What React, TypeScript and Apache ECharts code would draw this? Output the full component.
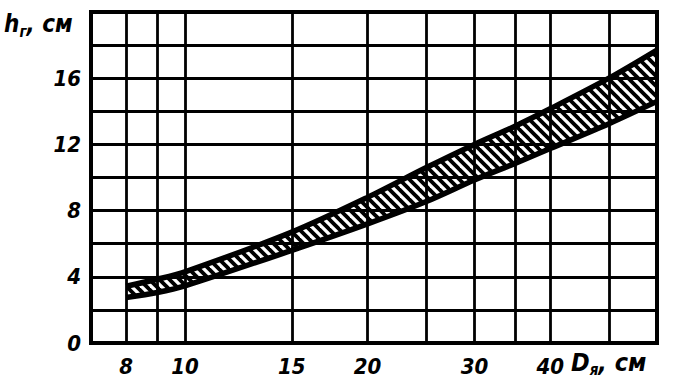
import React, { useEffect, useRef } from "react";
import * as echarts from "echarts";

// Diameter D_я (cm), logarithmic axis
const diameters = [8, 9, 10, 15, 20, 25, 30, 35, 40, 50, 60];
// Upper and lower bounds of h_г (cm)
const upperH = [3.43, 3.85, 4.3, 6.7, 8.8, 10.6, 12.0, 13.1, 14.15, 16.0, 17.7];
const lowerH = [2.75, 3.05, 3.45, 5.6, 7.2, 8.55, 9.85, 10.85, 11.75, 13.25, 14.6];
// Axis ticks / grid
const xTickLabels = [8, 10, 15, 20, 30, 40];
const xGridValues = [8, 9, 10, 15, 20, 25, 30, 35, 40, 50];
const yGridValues = [2, 4, 6, 8, 10, 12, 14, 16, 18];
const yTickLabels = [0, 4, 8, 12, 16];

const FONT = '"DejaVu Sans Condensed", "DejaVu Sans", sans-serif';

function makeHatch(): HTMLCanvasElement {
  const s = 10;
  const c = document.createElement("canvas");
  c.width = s;
  c.height = s;
  const ctx = c.getContext("2d")!;
  ctx.fillStyle = "#fff";
  ctx.fillRect(0, 0, s, s);
  ctx.strokeStyle = "#000";
  ctx.lineWidth = 3.8;
  for (const x0 of [-s, 0, s]) {
    ctx.beginPath();
    ctx.moveTo(x0 - 2, -2);
    ctx.lineTo(x0 + s + 2, s + 2);
    ctx.stroke();
  }
  return c;
}

export default function App() {
  const ref = useRef<HTMLDivElement>(null);

  useEffect(() => {
    if (!ref.current) return;
    const chart = echarts.init(ref.current, undefined, { renderer: "svg" });
    const hatch = makeHatch();
    const lowerPts = diameters.map((d, i) => [d, lowerH[i]]);
    const upperPts = diameters.map((d, i) => [d, upperH[i]]);
    const labelStyle = {
      color: "#000",
      fontFamily: FONT,
      fontWeight: "bold" as const,
      fontStyle: "italic" as const,
      fontSize: 22,
    };
    const smooth = 0.3;
    const subStyle = {
      fontSize: 15,
      fontWeight: "bold",
      fontStyle: "italic",
      fontFamily: FONT,
      verticalAlign: "bottom",
      lineHeight: 30,
      fill: "#000",
    };

    chart.setOption({
      animation: false,
      backgroundColor: "#fff",
      grid: {
        left: 91,
        right: 18,
        top: 12,
        bottom: 44,
        show: true,
        z: 8,
        backgroundColor: "transparent",
        borderColor: "#000",
        borderWidth: 4,
        outerBoundsMode: "none",
      },
      xAxis: {
        type: "log",
        logBase: 10,
        min: 7,
        max: 60,
        z: 8,
        axisLine: { show: true, lineStyle: { color: "#000", width: 4 } },
        axisTick: { show: false },
        splitLine: { show: false },
        minorSplitLine: { show: false },
        axisLabel: {
          ...labelStyle,
          margin: 12,
          customValues: xTickLabels,
          formatter: (v: number) => String(Math.round(v)),
        },
      },
      yAxis: {
        type: "value",
        min: 0,
        max: 20,
        interval: 2,
        z: 8,
        axisLine: { show: true, lineStyle: { color: "#000", width: 4 } },
        axisTick: { show: false },
        splitLine: { show: false },
        axisLabel: {
          ...labelStyle,
          margin: 10,
          formatter: (v: number) => (yTickLabels.includes(v) ? String(v) : ""),
        },
      },
      series: [
        {
          name: "upperFill",
          type: "line",
          data: upperPts,
          smooth,
          symbol: "none",
          lineStyle: { width: 0, opacity: 0 },
          areaStyle: {
            color: { image: hatch, repeat: "repeat", imageWidth: 10, imageHeight: 10 },
            opacity: 1,
          },
          silent: true,
          z: 2,
        },
        {
          name: "lowerFill",
          type: "line",
          data: lowerPts,
          smooth,
          symbol: "none",
          lineStyle: { width: 0, opacity: 0 },
          areaStyle: { color: "#fff", opacity: 1 },
          silent: true,
          z: 3,
        },
        {
          name: "lower",
          type: "line",
          data: lowerPts,
          smooth,
          symbol: "none",
          lineStyle: { color: "#000", width: 5.5 },
          silent: true,
          z: 6,
          markLine: {
            silent: true,
            symbol: "none",
            z: 5,
            label: { show: false },
            lineStyle: { color: "#000", width: 2.8, type: "solid" },
            data: [
              ...xGridValues.map((v) => ({ xAxis: v })),
              ...yGridValues.map((v) => ({ yAxis: v })),
            ],
          },
        },
        {
          name: "upper",
          type: "line",
          data: upperPts,
          smooth,
          symbol: "none",
          lineStyle: { color: "#000", width: 5.5 },
          silent: true,
          z: 6,
        },
      ],
      graphic: [
        {
          type: "text",
          left: 4,
          top: 12,
          z: 10,
          style: {
            text: "h{sub|г}, см",
            fill: "#000",
            font: `italic bold 24px ${FONT}`,
            rich: { sub: subStyle },
          },
        },
        {
          type: "text",
          left: 571,
          top: 350,
          z: 10,
          style: {
            text: "D{sub|я}, см",
            fill: "#000",
            font: `italic bold 25px ${FONT}`,
            rich: { sub: subStyle },
          },
        },
      ],
    });

    return () => chart.dispose();
  }, []);

  return (
    <div
      ref={ref}
      style={{ position: "fixed", left: 0, top: 0, width: 675, height: 387, background: "#fff" }}
    />
  );
}
